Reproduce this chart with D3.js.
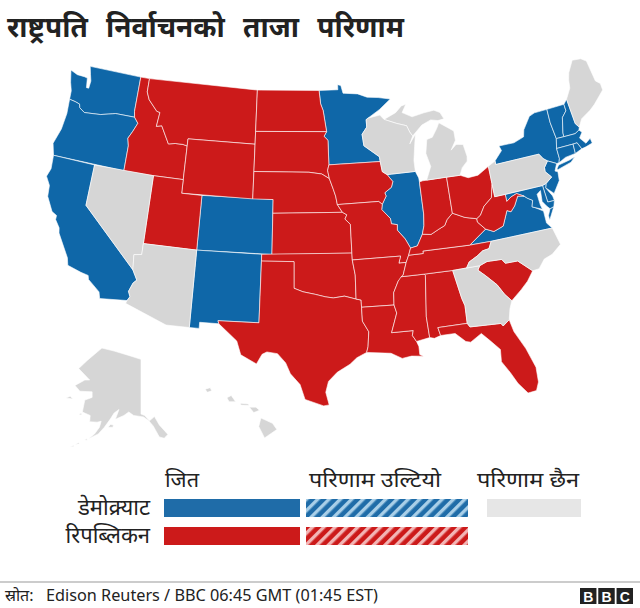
<!DOCTYPE html>
<html>
<head>
<meta charset="utf-8">
<title>राष्ट्रपति निर्वाचनको ताजा परिणाम</title>
<style>
  html, body { margin: 0; padding: 0; background: #fff; }
  text { font-family: "Noto Sans", "Noto Sans Devanagari", "Lohit Devanagari", "DejaVu Sans", sans-serif; fill: #222; }
</style>
<script src="https://cdnjs.cloudflare.com/ajax/libs/d3/7.8.5/d3.min.js"></script>
</head>
<body>
<script>
// who has won what
var demStates = ["WA","OR","CA","CO","NM","MN","IL","VA","NY","VT","NH","MA","CT","RI","NJ","DE","MD"];
var repStates = ["ID","MT","WY","UT","ND","SD","NE","KS","OK","TX","IA","MO","AR","LA","MS","AL","TN","KY","IN","OH","WV","SC","FL"];
var openStates = ["NV","AZ","GA","NC","PA","MI","WI","ME"];
var insetAlaska = ["AK"];
var insetHawaii = ["HI"];

// legend labels
var titleText = "राष्ट्रपति निर्वाचनको ताजा परिणाम";
var columnLabels = ["जित", "परिणाम उल्टियो", "परिणाम छैन"];
var rowLabels = ["डेमोक्र्याट", "रिपब्लिकन"];
var sourceLabel = "स्रोत:";
var sourceText = "Edison Reuters / BBC 06:45 GMT (01:45 EST)";
var logoLetters = ["B", "B", "C"];

// state outlines, lon/lat, rough
var WA = [[[-124.7,48.38],[-123.9,48.17],[-123.1,48.15],[-122.75,48.1],[-122.6,47.4],[-122.35,47.4],[-122.3,47.95],[-122.5,48.4],[-122.75,49],[-117.03,49],[-117.04,46.42],[-116.92,46],[-118.98,46],[-119.3,45.93],[-120.5,45.7],[-121.2,45.65],[-122.2,45.58],[-122.8,45.85],[-122.9,46.1],[-123.4,46.2],[-124.05,46.27],[-124.1,46.9],[-124.4,47.5]]];
var OR = [[[-124.05,46.27],[-123.4,46.2],[-122.9,46.1],[-122.8,45.85],[-122.2,45.58],[-121.2,45.65],[-120.5,45.7],[-119.3,45.93],[-118.98,46],[-116.92,46],[-116.47,45.6],[-116.85,44.95],[-117.22,44.4],[-117.03,43.85],[-117.03,42],[-124.2,42],[-124.55,42.84],[-124.1,44],[-123.95,45.2]]];
var CA = [[[-124.2,42],[-120,42],[-120,39],[-114.63,35],[-114.14,34.3],[-114.43,34.05],[-114.72,33.4],[-114.52,33.03],[-114.72,32.72],[-117.12,32.53],[-117.28,33],[-118.4,33.75],[-118.5,34.03],[-119.2,34.15],[-120.47,34.45],[-120.65,34.98],[-121.9,36.6],[-122,36.97],[-122.5,37.5],[-122.5,37.8],[-123,38],[-123.75,39],[-123.85,39.8],[-124.35,40.4],[-124.1,41]]];
var NV = [[[-120,42],[-114.04,42],[-114.04,36.2],[-114.75,36.1],[-114.63,35],[-120,39]]];
var ID = [[[-117.03,49],[-116.05,49],[-116.05,48],[-115.7,47.45],[-114.7,46.7],[-114.35,46.65],[-114.5,45.6],[-113.95,45.7],[-113.45,45.05],[-113,44.45],[-112.3,44.55],[-111.5,44.55],[-111.05,44.48],[-111.05,42],[-114.04,42],[-117.03,42],[-117.03,43.85],[-117.22,44.4],[-116.85,44.95],[-116.47,45.6],[-116.92,46],[-117.04,46.42]]];
var MT = [[[-116.05,49],[-104.05,49],[-104.05,45],[-111.05,45],[-111.05,44.48],[-111.5,44.55],[-112.3,44.55],[-113,44.45],[-113.45,45.05],[-113.95,45.7],[-114.5,45.6],[-114.35,46.65],[-114.7,46.7],[-115.7,47.45],[-116.05,48]]];
var WY = [[[-111.05,45],[-104.05,45],[-104.05,41],[-111.05,41]]];
var UT = [[[-114.04,42],[-111.05,42],[-111.05,41],[-109.05,41],[-109.05,37],[-114.04,37]]];
var CO = [[[-109.05,41],[-102.05,41],[-102.05,37],[-109.05,37]]];
var AZ = [[[-114.04,37],[-109.05,37],[-109.05,31.33],[-111.07,31.33],[-114.81,32.5],[-114.72,32.72],[-114.52,33.03],[-114.72,33.4],[-114.43,34.05],[-114.14,34.3],[-114.63,35],[-114.75,36.1],[-114.04,36.2]]];
var NM = [[[-109.05,37],[-103,37],[-103.05,32],[-106.62,32],[-106.53,31.78],[-108.2,31.78],[-108.2,31.33],[-109.05,31.33]]];
var ND = [[[-104.05,49],[-97.23,49],[-97.1,48],[-96.85,47.5],[-96.56,45.94],[-104.05,45.94]]];
var SD = [[[-104.05,45.94],[-96.56,45.94],[-96.85,45.6],[-96.45,45.3],[-96.45,43.5],[-96.6,43.1],[-96.45,42.49],[-97.2,42.85],[-98.5,43],[-104.05,43]]];
var NE = [[[-104.05,43],[-98.5,43],[-97.2,42.85],[-96.45,42.49],[-96.1,41.7],[-95.9,41.2],[-95.77,40.58],[-95.31,40],[-102.05,40],[-102.05,41],[-104.05,41]]];
var KS = [[[-102.05,40],[-95.31,40],[-94.9,39.8],[-95.1,39.5],[-94.61,39.1],[-94.62,37],[-102.05,37]]];
var OK = [[[-103,37],[-94.62,37],[-94.62,36.5],[-94.43,35.4],[-94.48,33.64],[-95.5,33.9],[-96.5,33.8],[-97.2,33.9],[-98.1,34.1],[-99.2,34.3],[-100,34.56],[-100,36.5],[-103,36.5]]];
var TX = [[[-103,36.5],[-100,36.5],[-100,34.56],[-99.2,34.3],[-98.1,34.1],[-97.2,33.9],[-96.5,33.8],[-95.5,33.9],[-94.48,33.64],[-94.04,33.55],[-94.04,33.02],[-94.04,32],[-93.55,31.2],[-93.7,30.1],[-93.85,29.7],[-94.7,29.35],[-95.3,28.9],[-96.4,28.35],[-97.15,27.7],[-97.4,26.9],[-97.15,25.96],[-97.6,25.9],[-99.1,26.4],[-99.5,27.5],[-100.3,28.3],[-100.7,29.1],[-101.4,29.77],[-102.3,29.88],[-102.7,29.7],[-103.15,28.98],[-104.5,29.6],[-104.9,30.6],[-106.53,31.78],[-106.62,32],[-103.05,32]]];
var MN = [[[-97.23,49],[-95.15,49],[-95.15,49.38],[-94.8,49.3],[-94.6,48.72],[-93,48.6],[-92,48.3],[-90.8,48.2],[-89.5,48],[-90.8,47.3],[-92.1,46.75],[-92.3,46.65],[-92.3,46.1],[-92.85,45.6],[-92.75,44.75],[-91.25,43.85],[-91.22,43.5],[-96.45,43.5],[-96.45,45.3],[-96.85,45.6],[-96.56,45.94],[-96.85,47.5],[-97.1,48]]];
var IA = [[[-96.45,43.5],[-91.22,43.5],[-91.1,42.75],[-90.65,42.5],[-90.15,41.95],[-90.35,41.55],[-91.05,41.2],[-90.95,40.95],[-91.4,40.38],[-91.73,40.61],[-95.77,40.58],[-95.9,41.2],[-96.1,41.7],[-96.45,42.49],[-96.6,43.1]]];
var MO = [[[-95.77,40.58],[-91.73,40.61],[-91.4,40.38],[-91.5,40],[-90.75,39.3],[-90.7,38.9],[-90.15,38.8],[-90.2,38.4],[-89.55,37.7],[-89.15,37],[-89.4,36.5],[-89.7,36],[-90.37,36],[-90.15,36.5],[-94.62,36.5],[-94.62,37],[-94.61,39.1],[-95.1,39.5],[-94.9,39.8],[-95.31,40]]];
var AR = [[[-94.62,36.5],[-90.15,36.5],[-90.37,36],[-89.7,36],[-90.1,35.1],[-90.6,34.7],[-91.1,33.9],[-91.17,33],[-94.04,33.02],[-94.04,33.55],[-94.48,33.64],[-94.43,35.4]]];
var LA = [[[-94.04,33.02],[-91.17,33],[-91,32.4],[-91.6,31],[-89.73,31],[-89.85,30.65],[-89.55,30.18],[-89.4,29.8],[-89.4,29.2],[-89.1,29.05],[-90.1,29.15],[-90.9,29.05],[-91.8,29.5],[-92.3,29.55],[-93.85,29.7],[-93.7,30.1],[-93.55,31.2],[-94.04,32]]];
var MS = [[[-91.17,33],[-91.1,33.9],[-90.6,34.7],[-90.3,35],[-88.2,35],[-88.1,34.9],[-88.47,31.9],[-88.4,30.35],[-89.55,30.18],[-89.85,30.65],[-89.73,31],[-91.6,31],[-91,32.4]]];
var AL = [[[-88.2,35],[-85.6,34.98],[-85.18,32.87],[-85,32.3],[-85.05,31],[-87.6,31],[-87.45,30.4],[-88,30.25],[-88.4,30.35],[-88.47,31.9],[-88.1,34.9]]];
var GA = [[[-85.6,34.98],[-83.11,35],[-83.35,34.7],[-82.75,34.2],[-81.9,33.4],[-81.4,32.6],[-80.9,32.05],[-81.2,31.5],[-81.45,30.72],[-82.05,30.36],[-82.2,30.57],[-84.86,30.71],[-85.05,31],[-85,32.3],[-85.18,32.87]]];
var FL = [[[-87.6,31],[-85.05,31],[-84.86,30.71],[-82.2,30.57],[-82.05,30.36],[-81.45,30.72],[-81.25,29.8],[-80.55,28.4],[-80.05,26.9],[-80.1,25.8],[-80.4,25.2],[-81.1,25.15],[-81.75,26],[-82.2,26.9],[-82.75,27.8],[-82.65,28.7],[-83.4,29.5],[-84,30.1],[-85,29.6],[-85.4,29.7],[-86.2,30.4],[-87.45,30.4]]];
var SC = [[[-83.35,34.7],[-83.11,35],[-82.4,35.2],[-81.05,35.15],[-80.8,34.82],[-79.67,34.8],[-78.55,33.86],[-79.2,33.2],[-79.9,32.7],[-80.9,32.05],[-81.4,32.6],[-81.9,33.4],[-82.75,34.2]]];
var NC = [[[-84.32,35],[-83.11,35],[-82.4,35.2],[-81.05,35.15],[-80.8,34.82],[-79.67,34.8],[-78.55,33.86],[-77.95,33.9],[-77.3,34.5],[-76.5,34.7],[-75.55,35.25],[-75.9,36.55],[-81.68,36.59],[-82,36.1],[-82.6,36.03],[-83.2,35.72],[-84,35.4]]];
var TN = [[[-90.3,35],[-90.1,35.1],[-89.7,36],[-89.4,36.5],[-88.05,36.5],[-88.05,36.68],[-83.68,36.6],[-81.68,36.59],[-82,36.1],[-82.6,36.03],[-83.2,35.72],[-84,35.4],[-84.32,35],[-85.6,34.98],[-88.2,35]]];
var KY = [[[-89.4,36.5],[-89.15,37],[-88.5,37.1],[-87.9,37.9],[-87.1,37.8],[-86.3,38.1],[-85.7,38.3],[-85.4,38.7],[-84.8,39.1],[-84.3,38.9],[-83.7,38.65],[-82.6,38.4],[-82.6,38.15],[-81.97,37.54],[-83.68,36.6],[-88.05,36.68],[-88.05,36.5]]];
var IL = [[[-90.65,42.5],[-87.8,42.5],[-87.55,42],[-87.53,41.7],[-87.53,39.35],[-87.65,38.5],[-87.9,37.9],[-88.5,37.1],[-89.15,37],[-89.55,37.7],[-90.2,38.4],[-90.15,38.8],[-90.7,38.9],[-90.75,39.3],[-91.5,40],[-91.4,40.38],[-90.95,40.95],[-91.05,41.2],[-90.35,41.55],[-90.15,41.95]]];
var IN = [[[-87.53,41.7],[-87.2,41.75],[-86.8,41.76],[-84.8,41.76],[-84.8,39.1],[-85.4,38.7],[-85.7,38.3],[-86.3,38.1],[-87.1,37.8],[-87.9,37.9],[-87.65,38.5],[-87.53,39.35]]];
var OH = [[[-84.8,41.76],[-83.45,41.73],[-82.7,41.45],[-81.7,41.5],[-80.52,41.98],[-80.52,40.64],[-80.85,39.7],[-81.7,39.2],[-82.2,38.6],[-82.6,38.4],[-83.7,38.65],[-84.3,38.9],[-84.8,39.1]]];
var MI = [
  [[-86.8,41.76],[-84.8,41.76],[-83.45,41.73],[-83.1,42.25],[-82.5,42.65],[-82.42,43],[-82.6,43.9],[-83.3,44],[-83.9,43.65],[-83.3,44.3],[-83.3,45],[-84.7,45.78],[-85,45.4],[-85.6,44.8],[-86.2,44.7],[-86.5,43.7],[-86.2,42.7]],
  [[-90.4,46.55],[-89.1,46.95],[-88.4,47.4],[-87.9,47.47],[-88.4,46.9],[-87.4,46.5],[-86.1,46.67],[-85,46.75],[-84.4,46.5],[-84.1,46],[-84.75,45.95],[-85.5,46.08],[-86.5,45.8],[-87.6,45.1],[-87.85,45.4],[-88.1,45.9],[-89.1,46.15]]
];
var WI = [[[-92.1,46.75],[-90.8,46.9],[-90.4,46.55],[-89.1,46.15],[-88.1,45.9],[-87.85,45.4],[-87.6,45.1],[-88,44.55],[-87.3,45.2],[-87.55,44.3],[-87.8,43.3],[-87.8,42.5],[-90.65,42.5],[-91.1,42.75],[-91.22,43.5],[-91.25,43.85],[-92.75,44.75],[-92.85,45.6],[-92.3,46.1],[-92.3,46.65]]];
var PA = [[[-80.52,41.98],[-79.76,42.27],[-79.76,42],[-75.35,42],[-75.05,41.6],[-74.7,41.36],[-75.15,40.95],[-75.2,40.65],[-74.72,40.15],[-75.4,39.8],[-75.79,39.72],[-80.52,39.72],[-80.52,40.64]]];
var NY = [
  [[-79.76,42.27],[-78.9,42.9],[-79.05,43.27],[-77.5,43.25],[-76.4,43.5],[-76.2,44],[-75.3,44.85],[-74.7,45],[-73.35,45],[-73.4,44],[-73.25,42.75],[-73.5,42.05],[-73.5,41.3],[-73.65,41],[-73.9,41],[-74.7,41.36],[-75.05,41.6],[-75.35,42],[-79.76,42]],
  [[-74.03,40.6],[-73.75,40.85],[-72.6,40.98],[-72,41.1],[-72.5,40.8],[-73.9,40.55]]
];
var VT = [[[-73.35,45],[-71.5,45],[-71.5,44.5],[-72.05,44.1],[-72.45,43],[-72.46,42.73],[-73.25,42.75],[-73.4,44]]];
var NH = [[[-71.5,45],[-71.08,45.3],[-70.98,43.4],[-70.7,43.07],[-70.82,42.87],[-71.3,42.7],[-72.46,42.73],[-72.45,43],[-72.05,44.1],[-71.5,44.5]]];
var ME = [[[-71.08,45.3],[-70.4,46],[-70.25,46.6],[-70,47.1],[-69.23,47.9],[-68.3,47.8],[-67.8,47.5],[-67.6,45.9],[-67.2,45.6],[-67.2,45.1],[-68.5,44.3],[-69.1,44],[-70.2,43.6],[-70.7,43.07],[-70.98,43.4]]];
var MA = [[[-73.5,42.05],[-73.25,42.75],[-72.46,42.73],[-71.3,42.7],[-70.82,42.87],[-70.6,42.65],[-71,42.3],[-70.55,41.8],[-70,42.05],[-69.95,41.67],[-70.65,41.55],[-71.12,41.5],[-71.38,42.02],[-71.8,42.02]]];
var CT = [[[-73.5,42.05],[-71.8,42.02],[-71.85,41.32],[-72.9,41.25],[-73.65,41],[-73.5,41.3]]];
var RI = [[[-71.8,42.02],[-71.38,42.02],[-71.12,41.5],[-71.85,41.32]]];
var NJ = [[[-74.7,41.36],[-73.9,41],[-74.25,40.5],[-74,40.4],[-74.1,39.75],[-74.9,38.95],[-75.55,39.5],[-75.4,39.8],[-74.72,40.15],[-75.2,40.65],[-75.15,40.95]]];
var DE = [[[-75.79,39.72],[-75.4,39.8],[-75.55,39.5],[-75.1,38.8],[-75.05,38.45],[-75.7,38.46]]];
var MD = [[[-79.48,39.72],[-75.79,39.72],[-75.7,38.46],[-75.05,38.45],[-75.25,38.03],[-75.65,37.95],[-75.9,38.2],[-76.2,38.6],[-76.1,39.4],[-76.5,39.2],[-76.45,38.4],[-76.35,38.05],[-77,38.3],[-77.25,38.4],[-77.05,38.85],[-77.5,39.1],[-77.75,39.3],[-78.4,39.6],[-79,39.45],[-79.48,39.2]]];
var VA = [
  [[-83.68,36.6],[-81.68,36.59],[-75.9,36.55],[-76.3,37],[-76.3,37.9],[-77,38.3],[-77.25,38.4],[-77.05,38.85],[-77.5,39.1],[-77.75,39.3],[-78.35,39.4],[-78.85,38.75],[-79.3,38.4],[-79.65,38.55],[-80.3,37.5],[-81.25,37.25],[-81.97,37.54]],
  [[-75.65,37.95],[-75.25,38.03],[-75.95,37.15],[-75.95,37.5]]
];
var WV = [[[-80.52,40.64],[-80.52,39.72],[-79.48,39.72],[-79.48,39.2],[-79,39.45],[-78.4,39.6],[-77.75,39.3],[-78.35,39.4],[-78.85,38.75],[-79.3,38.4],[-79.65,38.55],[-80.3,37.5],[-81.25,37.25],[-81.97,37.54],[-82.6,38.15],[-82.6,38.4],[-82.2,38.6],[-81.7,39.2],[-80.85,39.7]]];
var AK = [
  [[-141,69.65],[-141,60.3],[-139.5,60],[-137.5,58.9],[-135.5,59.8],[-133.5,58],[-130,55.9],[-131.5,55],[-133.5,55.3],[-136,57.8],[-138,59],[-140,59.7],[-144,60],[-146,60.7],[-148,60],[-151.5,59.2],[-150,61.2],[-152,60.5],[-153.5,59.3],[-156,57.5],[-158.5,56],[-162.5,54.9],[-160,56],[-158,57.5],[-157.3,58.8],[-159,58.6],[-162,58.7],[-161.8,60],[-165,60.7],[-164,63],[-161,63.5],[-161,64.5],[-166,64.6],[-168,65.6],[-164,66.5],[-162,66.5],[-166.5,68.3],[-163,69.5],[-157,71.2],[-152,70.8],[-146,70.2]],
  [[-154.5,57.5],[-152.5,57.5],[-152.3,58],[-153.5,58.1]],
  [[-171.7,63.4],[-168.8,63.2],[-170,63.7]],
  [[-166.5,60.2],[-165.2,60.1],[-165.5,60.5]],
  [[-164,54.6],[-162.9,54.5],[-163.4,54.9]],
  [[-167.9,53.5],[-166.2,53.7],[-166.6,53.95]],
  [[-170,52.9],[-168.5,53],[-168.5,53.3]]
];
var HI = [
  [[-155.9,20.25],[-155.1,19.9],[-154.8,19.5],[-155.65,18.95],[-156.05,19.7]],
  [[-156.7,20.95],[-156.25,20.95],[-156,20.75],[-156.4,20.6]],
  [[-157.3,21.2],[-156.75,21.15],[-156.75,21.05],[-157.3,21.08]],
  [[-158.25,21.55],[-157.95,21.7],[-157.65,21.3],[-158.1,21.3]],
  [[-159.75,22.1],[-159.4,22.2],[-159.3,22],[-159.6,21.9]]
];

var shapes = {WA,OR,CA,NV,ID,MT,WY,UT,CO,AZ,NM,ND,SD,NE,KS,OK,TX,MN,IA,MO,AR,LA,MS,AL,GA,FL,SC,NC,TN,KY,IL,IN,OH,MI,WI,PA,NY,VT,NH,ME,MA,CT,RI,NJ,DE,MD,VA,WV,AK,HI};

var width = 640, height = 608;
var blue = "#0f67a8", red = "#cc1a1a", grey = "#d6d6d6";

var svg = d3.select("body").append("svg")
    .attr("width", width)
    .attr("height", height)
    .style("display", "block");

// hatched fills for the legend
function hatch(id, dark, light) {
  var p = svg.append("defs").append("pattern")
      .attr("id", id)
      .attr("patternUnits", "userSpaceOnUse")
      .attr("width", 8)
      .attr("height", 8)
      .attr("patternTransform", "rotate(45)");
  p.append("rect").attr("width", 8).attr("height", 8).attr("fill", dark);
  p.append("rect").attr("width", 3.4).attr("height", 8).attr("fill", light);
}
hatch("hatchBlue", "#1f6ca8", "#a9cfe8");
hatch("hatchRed", red, "#f2b5b5");

// make a GeoJSON feature, rings turned whichever way d3 wants them
function toFeature(code) {
  var f = {type: "Feature", id: code, geometry: {type: "MultiPolygon", coordinates: shapes[code].map(function (r) { return [r.concat([r[0]])]; })}};
  f.geometry.coordinates.forEach(function (poly) {
    if (d3.geoArea({type: "Polygon", coordinates: poly}) > 2 * Math.PI) poly[0].reverse();
  });
  return f;
}

var colour = d3.scaleOrdinal()
    .domain(demStates.concat(repStates, openStates, insetAlaska, insetHawaii))
    .range(demStates.map(function () { return blue; })
      .concat(repStates.map(function () { return red; }))
      .concat(openStates.concat(insetAlaska, insetHawaii).map(function () { return grey; })));

var mainland = d3.geoConicEqualArea().parallels([29.5, 45.5]).rotate([100, 0]).center([0, 38]).scale(780).translate([294, 241]);
var alaska = d3.geoMercator().scale(140).center([-141, 60.3]).translate([141, 414]);
var hawaii = d3.geoMercator().scale(830).center([-157, 20.7]).translate([245, 411]);

function drawStates(codes, projection) {
  svg.append("g").selectAll("path")
    .data(codes.map(toFeature))
    .enter().append("path")
    .attr("d", d3.geoPath(projection))
    .attr("fill", function (d) { return colour(d.id); })
    .attr("stroke", "#fff")
    .attr("stroke-opacity", 0.75)
    .attr("stroke-width", 0.8)
    .attr("stroke-linejoin", "round");
}
drawStates(demStates.concat(repStates, openStates), mainland);
drawStates(insetAlaska, alaska);
drawStates(insetHawaii, hawaii);

// title
svg.append("text").attr("x", 7).attr("y", 37)
    .attr("font-size", 28).attr("font-weight", 700)
    .attr("word-spacing", 11)
    .text(titleText);

// legend
var colX = d3.scaleOrdinal().domain(columnLabels).range([164, 306, 487]);
var colW = d3.scaleOrdinal().domain(columnLabels).range([136, 162, 94]);
var labelX = d3.scaleOrdinal().domain(columnLabels).range([165, 309, 477]);
var labelW = d3.scaleOrdinal().domain(columnLabels).range([34, 132, 102]);
var rowY = d3.scaleOrdinal().domain(rowLabels).range([499, 527]);

svg.append("g").selectAll("text")
  .data(columnLabels)
  .enter().append("text")
    .attr("x", function (d) { return labelX(d); })
    .attr("y", 487)
    .attr("font-size", 21)
    .attr("textLength", function (d) { return labelW(d); })
    .attr("lengthAdjust", "spacingAndGlyphs")
    .text(function (d) { return d; });

svg.append("g").selectAll("text")
  .data(rowLabels)
  .enter().append("text")
    .attr("x", 150)
    .attr("y", function (d) { return rowY(d) + 16; })
    .attr("text-anchor", "end")
    .attr("font-size", 22)
    .text(function (d) { return d; });

var legendCells = [
  [columnLabels[0], rowLabels[0], "#1f6ca8"],
  [columnLabels[1], rowLabels[0], "url(#hatchBlue)"],
  [columnLabels[2], rowLabels[0], "#e6e6e6"],
  [columnLabels[0], rowLabels[1], red],
  [columnLabels[1], rowLabels[1], "url(#hatchRed)"]
];
svg.append("g").selectAll("rect")
  .data(legendCells)
  .enter().append("rect")
    .attr("x", function (d) { return colX(d[0]); })
    .attr("y", function (d) { return rowY(d[1]); })
    .attr("width", function (d) { return colW(d[0]); })
    .attr("height", 18)
    .attr("fill", function (d) { return d[2]; });

// footer
svg.append("line").attr("x1", 0).attr("x2", width).attr("y1", 582).attr("y2", 582)
    .attr("stroke", "#999").attr("stroke-width", 1);
svg.append("text").attr("x", 5).attr("y", 601)
    .attr("font-size", 16)
    .text(sourceLabel);
svg.append("text").attr("x", 46).attr("y", 601)
    .attr("font-size", 16).attr("textLength", 332).attr("lengthAdjust", "spacingAndGlyphs")
    .text(sourceText);

var logoX = d3.scaleBand().domain(d3.range(logoLetters.length)).range([580, 633]).paddingInner(0.1);
var logo = svg.append("g").selectAll("g")
  .data(logoLetters)
  .enter().append("g")
    .attr("transform", function (d, i) { return "translate(" + logoX(i) + ",588)"; });
logo.append("rect").attr("width", logoX.bandwidth()).attr("height", 16).attr("fill", "#222");
logo.append("text")
    .attr("x", logoX.bandwidth() / 2).attr("y", 13.5)
    .attr("text-anchor", "middle").attr("font-size", 14).attr("font-weight", 700)
    .style("fill", "#fff")
    .style("font-family", "Liberation Sans, sans-serif")
    .text(function (d) { return d; });
</script>
</body>
</html>
